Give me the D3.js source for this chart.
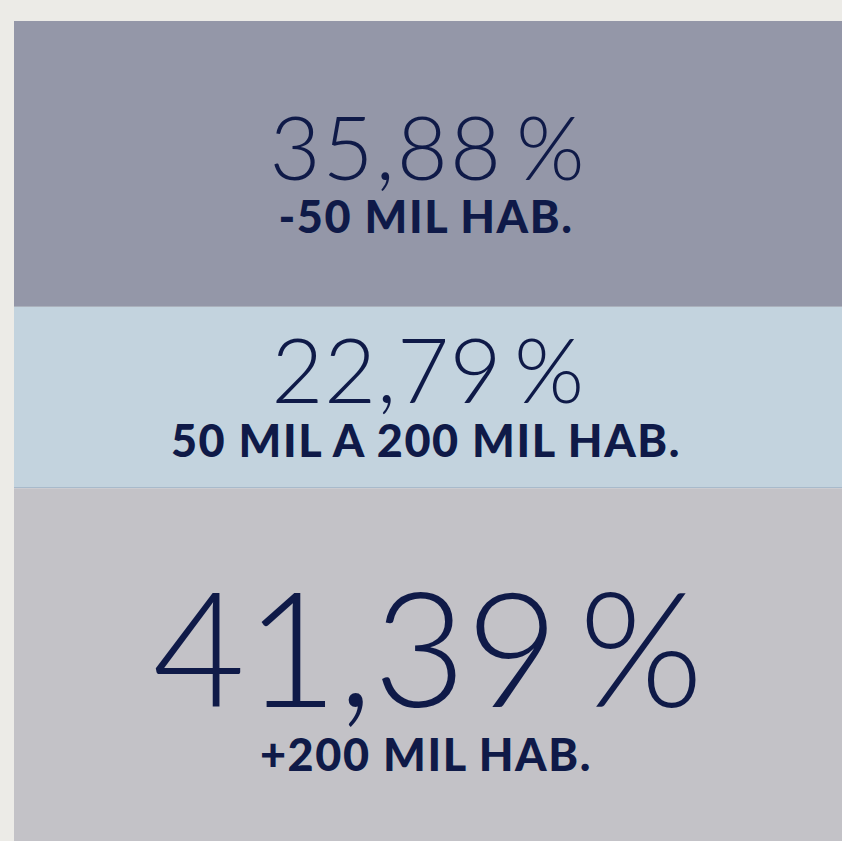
<!DOCTYPE html>
<html>
<head>
<meta charset="utf-8">
<script src="https://cdn.jsdelivr.net/npm/d3@7/dist/d3.min.js"></script>
<style>
    html, body {
        margin: 0;
        padding: 0;
        background: #ecebe7;
        overflow: hidden;
    }
    .value {
        font-family: "Lato", "Inter", sans-serif;
        font-weight: 300;
        fill: #0f1a48;
    }
    .label {
        font-family: "Lato", "Open Sans", sans-serif;
        font-weight: 900;
        letter-spacing: 1.6px;
        fill: #0f1a48;
    }
</style>
</head>
<body>
<div id="chart"></div>
<script>
"use strict";

var Categories = ["-50 MIL HAB.", "50 MIL A 200 MIL HAB.", "+200 MIL HAB."];
var Shares = [35.88, 22.79, 41.39];

var FillColors = ["#9497a8", "#c3d3de", "#c3c2c7"];
var ValueSizes = [88, 90, 160];
var ValueSpacing = [2, 0.5, 0];
var LabelSize = 45;
var TextNudge = [11, 0, 17];

var Width = 842,
    Height = 841,
    Left = 14,
    Top = 21;

var CapRatio = 0.717;

var formatShare = function (v) {
    return d3.format(".2f")(v).replace(".", ",") + "\u2009%";
};

var svg = d3.select("#chart")
    .append("svg")
    .attr("width", Width)
    .attr("height", Height);

var y = d3.scaleLinear()
    .domain([0, d3.sum(Shares)])
    .range([Top, 818]);

var x = d3.scaleLinear()
    .domain([0, 1])
    .range([Left, Width]);

var rows = Shares.map(function (v, i) {
    var start = d3.sum(Shares.slice(0, i));
    var last = i === Shares.length - 1;
    return {
        name: Categories[i],
        value: v,
        y0: y(start),
        y1: last ? Height : y(start + v),
        color: FillColors[i],
        size: ValueSizes[i],
        spacing: ValueSpacing[i],
        nudge: TextNudge[i]
    };
});

var band = svg.selectAll("g.band")
    .data(rows)
    .enter()
    .append("g")
    .attr("class", "band");

band.append("rect")
    .attr("x", x(0))
    .attr("y", function (d) { return d.y0; })
    .attr("width", x(1) - x(0))
    .attr("height", function (d) { return d.y1 - d.y0; })
    .style("fill", function (d) { return d.color; });

// thin line between the middle and the bottom band
svg.append("line")
    .attr("x1", x(0))
    .attr("x2", x(1))
    .attr("y1", Math.round(rows[2].y0) - 0.5)
    .attr("y2", Math.round(rows[2].y0) - 0.5)
    .style("stroke", "#a8bacb")
    .style("stroke-width", 1);

band.each(function (d) {
    var g = d3.select(this);
    var capValue = d.size * CapRatio;
    var capLabel = LabelSize * CapRatio;
    var gap = 8 + d.size * 0.15;
    var block = capValue + gap + capLabel;
    var mid = (d.y0 + d.y1) / 2 + d.nudge;
    var valueBase = mid - block / 2 + capValue;
    var labelBase = valueBase + gap + capLabel;
    var cx = (x(0) + x(1)) / 2;

    g.append("text")
        .attr("class", "value")
        .attr("x", cx)
        .attr("y", valueBase)
        .attr("text-anchor", "middle")
        .style("font-size", d.size + "px")
        .style("letter-spacing", d.spacing + "px")
        .text(formatShare(d.value));

    g.append("text")
        .attr("class", "label")
        .attr("x", cx - 2)
        .attr("y", labelBase)
        .attr("text-anchor", "middle")
        .style("font-size", LabelSize + "px")
        .text(d.name);
});
</script>
</body>
</html>
